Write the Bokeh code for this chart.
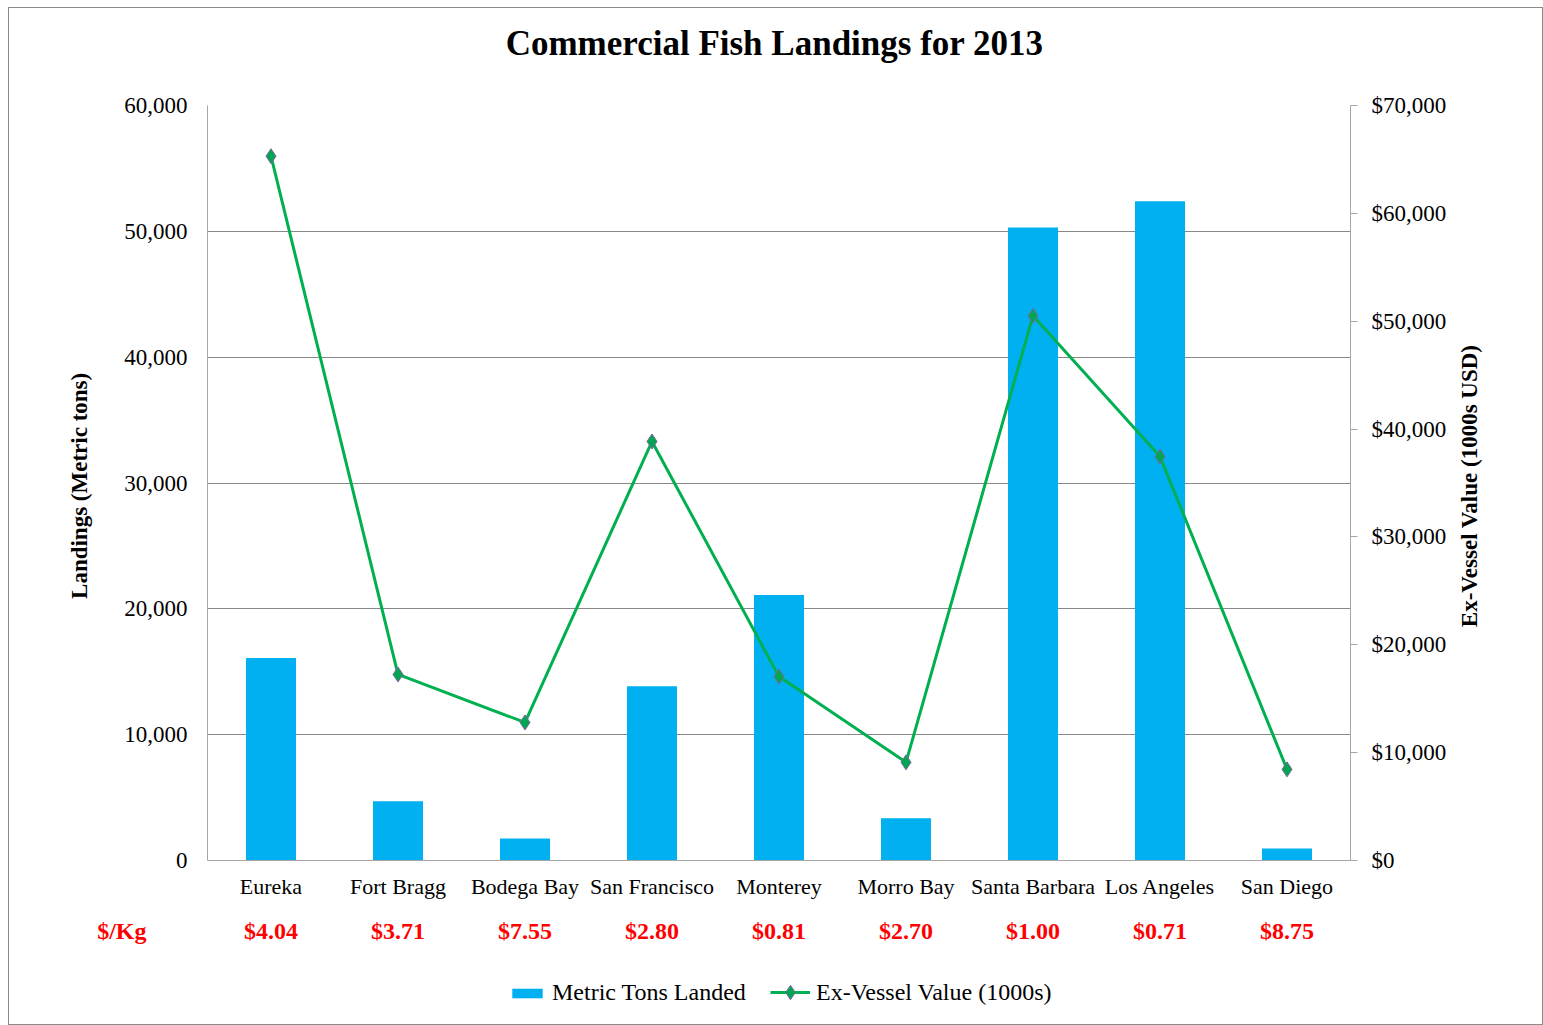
from bokeh.plotting import figure
from bokeh.layouts import column, row
from bokeh.models import (Range1d, FactorRange, LinearAxis, FixedTicker,
                          NumeralTickFormatter, Legend, LegendItem, Title)
from bokeh.embed import file_html
from bokeh.resources import INLINE

cities = ["Eureka", "Fort Bragg", "Bodega Bay", "San Francisco", "Monterey",
          "Morro Bay", "Santa Barbara", "Los Angeles", "San Diego"]
tons_landed = [16100, 4700, 1750, 13850, 21100, 3350, 50300, 52400, 950]
ex_vessel_value = [65300, 17250, 12800, 38850, 17050, 9100, 50500, 37450, 8450]
price_label = "$/Kg"
price_per_kg = ["$4.04", "$3.71", "$7.55", "$2.80", "$0.81", "$2.70", "$1.00", "$0.71", "$8.75"]
left_ticks = [0, 10000, 20000, 30000, 40000, 50000, 60000]
right_ticks = [0, 10000, 20000, 30000, 40000, 50000, 60000, 70000]
series_names = ["Metric Tons Landed", "Ex-Vessel Value (1000s)"]
title_text = "Commercial  Fish Landings for 2013"
left_title = "Landings  (Metric tons)"
right_title = "Ex-Vessel Value  (1000s USD)"

FONT = "Liberation Serif"
BAR_COLOR = "#00B0F0"
LINE_COLOR = "#00B050"
MARK_FILL = "#00A651"
MARK_LINE = "#8064A2"
W = 1535
BL, BR = 199, 193
W_MAIN = 1442
TOP, BOTTOM = 98, 45
H_MAIN = 898


def base_fig(width=W, **kw):
    f = figure(width=width, output_backend="svg", toolbar_location=None, **kw)
    f.outline_line_color = None
    f.border_fill_color = None
    f.background_fill_color = None
    return f


# ---------------- main chart ----------------
p = base_fig(width=W_MAIN, x_range=cities, y_range=Range1d(0, 60000), height=H_MAIN,
             min_border_left=BL, min_border_right=W_MAIN - (W - BR),
             min_border_top=TOP, min_border_bottom=BOTTOM)
p.extra_y_ranges = {"val": Range1d(0, 70000)}

p.title = Title(text=title_text + "\n", align="center",
                text_font=FONT, text_font_size="35px", text_font_style="bold",
                text_color="black", standoff=8)

bars = p.vbar(x=cities, top=tons_landed, width=0.394, color=BAR_COLOR, line_color=None)
ln = p.line(x=cities, y=ex_vessel_value, y_range_name="val", line_color=LINE_COLOR, line_width=3)
mk = p.scatter(x=cities, y=ex_vessel_value, y_range_name="val", marker="diamond", size=15,
               fill_color=MARK_FILL, line_color=MARK_LINE, line_width=1)

la = p.yaxis[0]
la.ticker = FixedTicker(ticks=left_ticks)
la.formatter = NumeralTickFormatter(format="0,0")
la.axis_line_color = "#a6a6a6"
la.major_tick_line_color = None
la.minor_tick_line_color = None
la.major_label_text_font = FONT
la.major_label_text_font_size = "23px"
la.major_label_text_color = "black"
la.major_label_standoff = 14
la.axis_label = left_title
la.axis_label_text_font = FONT
la.axis_label_text_font_size = "23px"
la.axis_label_text_font_style = "bold"
la.axis_label_text_color = "black"
la.axis_label_standoff = 29

p.ygrid.ticker = FixedTicker(ticks=left_ticks)
p.ygrid.grid_line_color = "#888888"
p.xgrid.grid_line_color = None

ra = LinearAxis(y_range_name="val", ticker=FixedTicker(ticks=right_ticks),
                formatter=NumeralTickFormatter(format="$0,0"))
ra.axis_line_color = "#a6a6a6"
ra.major_tick_line_color = "#a6a6a6"
ra.major_tick_out = 7
ra.major_tick_in = 0
ra.minor_tick_line_color = None
ra.major_label_text_font = FONT
ra.major_label_text_font_size = "23px"
ra.major_label_text_color = "black"
ra.major_label_standoff = 14
p.add_layout(ra, "right")

xa = p.xaxis[0]
xa.axis_line_color = "#a6a6a6"
xa.major_tick_line_color = None
xa.minor_tick_line_color = None
xa.major_label_text_font = FONT
xa.major_label_text_font_size = "22px"
xa.major_label_text_color = "black"
xa.major_label_standoff = 7

# ---------------- right axis title (reads bottom-to-top) ----------------
W_R = W - W_MAIN
pr = base_fig(width=W_R, height=H_MAIN, x_range=Range1d(0, 1), y_range=Range1d(0, 1),
              x_axis_location=None, y_axis_location=None,
              min_border_left=31, min_border_right=0, min_border_top=TOP, min_border_bottom=BOTTOM)
pr.grid.grid_line_color = None
pr.add_layout(Title(text=right_title, align="center", text_font=FONT, text_font_size="23px",
                    text_font_style="bold", text_color="black", standoff=0), "left")

# ---------------- $/Kg row ----------------
p2 = base_fig(x_range=p.x_range, y_range=FactorRange(factors=[price_label]), height=50,
              x_axis_location=None, min_border_left=BL, min_border_right=BR,
              min_border_top=0, min_border_bottom=0)
p2.grid.grid_line_color = None
p2.text(x=cities, y=[price_label] * len(cities), text=price_per_kg,
        text_font=FONT, text_font_size="24px", text_font_style="bold",
        text_color="#FF0000", text_align="center", text_baseline="middle")
ka = p2.yaxis[0]
ka.axis_line_color = None
ka.major_tick_line_color = None
ka.minor_tick_line_color = None
ka.major_label_text_font = FONT
ka.major_label_text_font_size = "24px"
ka.major_label_text_font_style = "bold"
ka.major_label_text_color = "#FF0000"
ka.major_label_standoff = 55

# ---------------- legend row ----------------
p3 = base_fig(x_range=p.x_range, y_range=Range1d(0, 60000), height=70,
              x_axis_location=None, y_axis_location=None, min_border_left=BL, min_border_right=BR,
              min_border_top=0, min_border_bottom=0)
p3.extra_y_ranges = {"val": Range1d(0, 70000)}
p3.grid.grid_line_color = None
lb = p3.vbar(x=cities, top=tons_landed, width=0.394, color=BAR_COLOR, line_color=None, visible=False)
ll = p3.line(x=cities, y=ex_vessel_value, y_range_name="val", line_color=LINE_COLOR,
             line_width=3, visible=False)
lm = p3.scatter(x=cities, y=ex_vessel_value, y_range_name="val", marker="diamond", size=15,
                fill_color=MARK_FILL, line_color=MARK_LINE, line_width=1, visible=False)

leg_style = dict(orientation="horizontal", click_policy="none",
                 label_text_font=FONT, label_text_font_size="24px", label_text_color="black",
                 label_standoff=6, border_line_color=None, background_fill_alpha=0,
                 padding=0, margin=0)
leg1 = Legend(items=[LegendItem(label=series_names[0], renderers=[lb])],
              location=(301, 19), glyph_width=38, glyph_height=12, **leg_style)
leg2 = Legend(items=[LegendItem(label=series_names[1], renderers=[ll, lm])],
              location=(563, 15), glyph_width=40, glyph_height=36, **leg_style)
p3.add_layout(leg1, "center")
p3.add_layout(leg2, "center")

layout = column(row(p, pr, spacing=0), p2, p3, spacing=0, margin=(7, 0, 0, 8))
layout.styles = {"outline": "1px solid #8a8a8a", "outline-offset": "-1px",
                 "background-color": "white"}

open("out.html", "w").write(file_html(layout, INLINE))
